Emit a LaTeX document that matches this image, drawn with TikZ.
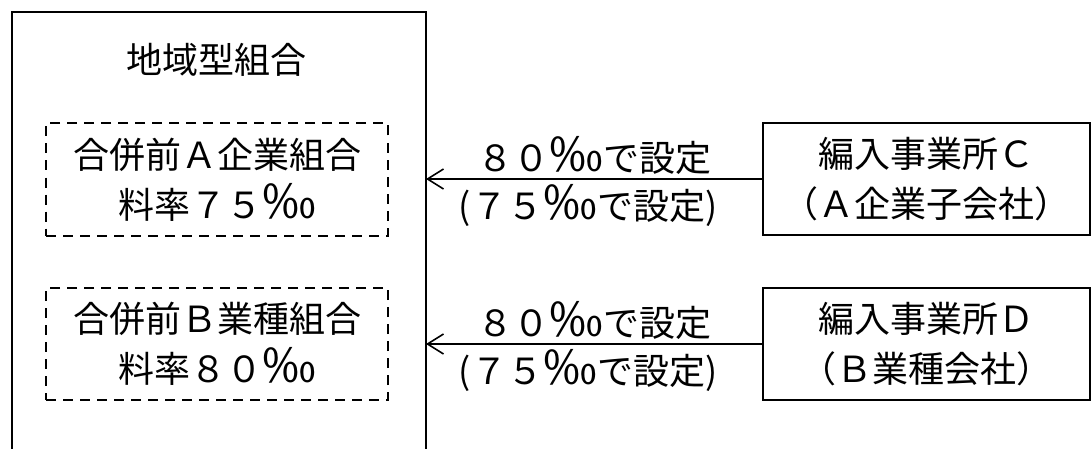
\documentclass[tikz,border=0pt]{standalone}
\usepackage{fontspec}
\setmainfont{Noto Sans CJK JP}
\usetikzlibrary{arrows.meta}
\newcommand{\permille}{\scalebox{1.5}[1.3]{‰}}

\begin{document}
\begin{tikzpicture}[x=0.5pt, y=-0.5pt, font=\fontsize{18}{25}\selectfont,
    plainbox/.style={draw, rectangle, line width=1pt, align=center, inner sep=0pt},
    mergedbox/.style={plainbox, dashed, dash pattern=on 5pt off 3.5pt, minimum width=171pt, minimum height=56pt},
    officebox/.style={plainbox, minimum width=163.5pt, minimum height=56pt},
    rate/.style={inner sep=0pt}]
    \useasboundingbox (0,0) rectangle (1092,449);

    % region union (open at the bottom)
    \coordinate (regionSW) at (12,449);
    \coordinate (regionNW) at (12,12);
    \coordinate (regionNE) at (426,12);
    \coordinate (regionSE) at (426,449);
    \draw[line width=1pt] (regionSW) -- (regionNW) -- (regionNE) -- (regionSE);
    \node (title) at (216,60) {地域型組合};

    \node[mergedbox] (A) at (217,179.5) {合併前Ａ企業組合\\料率７５\permille};
    \node[mergedbox] (B) at (217,344) {合併前Ｂ業種組合\\料率８０\permille};

    \node[officebox] (C) at (926.5,179) {編入事業所Ｃ\\（Ａ企業子会社）};
    \node[officebox] (D) at (926.5,344) {編入事業所Ｄ\\（Ｂ業種会社）};

    \node[rate] (C1) at (594,155) {８０\permille で設定};
    \node[rate] (C2) at (588,205) {(７５\permille で設定)};
    \node[rate] (D1) at (594,320) {８０\permille で設定};
    \node[rate] (D2) at (588,370) {(７５\permille で設定)};

    \draw[line width=0.8pt, -{Straight Barb[length=8pt, width=10pt]}] (C.west) -- (C.west -| regionNE);
    \draw[line width=0.8pt, -{Straight Barb[length=8pt, width=10pt]}] (D.west) -- (D.west -| regionNE);
\end{tikzpicture}
\end{document}
